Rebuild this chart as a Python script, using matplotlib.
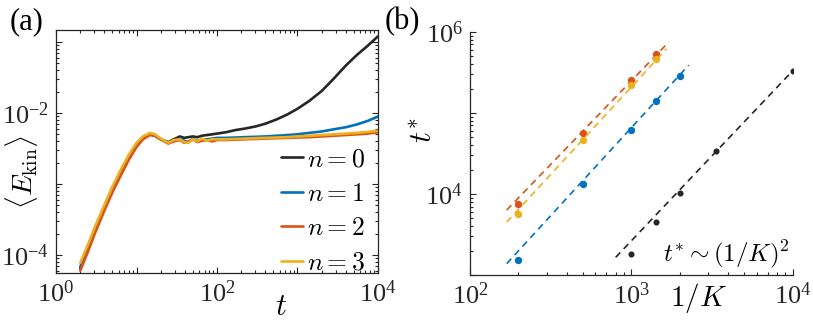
import numpy as np
import matplotlib
matplotlib.use("Agg")
import matplotlib.pyplot as plt
from matplotlib.ticker import LogLocator, FixedLocator, FuncFormatter, NullFormatter

plt.rcParams['font.family'] = ['Liberation Serif', 'DejaVu Serif']
plt.rcParams['mathtext.fontset'] = 'custom'
plt.rcParams['mathtext.rm'] = 'Liberation Serif'
plt.rcParams['mathtext.it'] = 'Liberation Serif:italic'
plt.rcParams['mathtext.bf'] = 'Liberation Serif:bold'

# ---------------- data: panel (a) ----------------
t_vals = [2.0, 2.5, 3.0, 4.0, 5.0, 6.5, 8.0, 10, 12, 14.7, 17, 20, 24.8, 29, 34.7, 39, 44,
          50, 57, 65, 75, 87, 100, 130, 170, 220, 300, 400, 550, 750, 1000, 1400, 2000,
          2800, 4000, 5500, 7500, 10000]

# log10 of <E_kin>
logE_n0 = [-4.19, -3.92, -3.69, -3.35, -3.10, -2.84, -2.64, -2.46, -2.36, -2.30, -2.32, -2.37,
           -2.41, -2.37, -2.33, -2.35, -2.34, -2.33, -2.34, -2.32, -2.31, -2.30, -2.29,
           -2.27, -2.24, -2.22, -2.19, -2.15, -2.09, -2.02, -1.94, -1.83, -1.69, -1.52,
           -1.33, -1.18, -1.05, -0.92]
logE_n1 = [-4.17, -3.90, -3.67, -3.33, -3.08, -2.82, -2.62, -2.45, -2.35, -2.30, -2.32, -2.37,
           -2.42, -2.39, -2.36, -2.39, -2.41, -2.37, -2.39, -2.38, -2.37, -2.36, -2.35,
           -2.35, -2.345, -2.34, -2.335, -2.33, -2.32, -2.31, -2.30, -2.28, -2.26, -2.23,
           -2.20, -2.16, -2.11, -2.05]
logE_n2 = [-4.22, -3.95, -3.71, -3.37, -3.12, -2.86, -2.66, -2.48, -2.37, -2.31, -2.32, -2.37,
           -2.43, -2.40, -2.38, -2.42, -2.40, -2.37, -2.41, -2.39, -2.38, -2.40, -2.38,
           -2.38, -2.375, -2.37, -2.365, -2.36, -2.355, -2.35, -2.345, -2.34, -2.33, -2.32,
           -2.31, -2.30, -2.29, -2.27]
logE_n3 = [-4.11, -3.85, -3.62, -3.29, -3.04, -2.78, -2.59, -2.42, -2.33, -2.28, -2.30, -2.36,
           -2.42, -2.38, -2.37, -2.41, -2.42, -2.37, -2.40, -2.36, -2.39, -2.37, -2.37,
           -2.37, -2.365, -2.36, -2.355, -2.35, -2.345, -2.34, -2.33, -2.32, -2.31, -2.30,
           -2.29, -2.28, -2.265, -2.25]
series_a_labels = [r'$n=0$', r'$n=1$', r'$n=2$', r'$n=3$']

# ---------------- data: panel (b) ----------------
invK_n0 = [1000, 1429, 2000, 3333, 10000]
tstar_n0 = [1830, 4530, 10200, 34200, 331000]
invK_n1 = [200, 500, 1000, 1429, 2000]
tstar_n1 = [1510, 13100, 62400, 139000, 284000]
invK_n2 = [200, 500, 1000, 1429]
tstar_n2 = [7450, 56000, 253000, 528000]
invK_n3 = [200, 500, 1000, 1429]
tstar_n3 = [5690, 46500, 218000, 468000]
# dashed (1/K)^2 fit lines, end values
fit_x_n0 = [800, 10000];  fit_y_n0 = [1650, 331000]
fit_x_n1 = [169, 2270];   fit_y_n1 = [1380, 389000]
fit_x_n2 = [169, 1710];   fit_y_n2 = [6330, 752000]
fit_x_n3 = [169, 1650];   fit_y_n3 = [4490, 615000]

colors = ['#262626', '#0072BD', '#D95319', '#EDB120']
spine_c = '#262626'

fig = plt.figure(figsize=(8.13, 3.22), dpi=100)
axa = fig.add_axes([0.0689, 0.152, 0.396, 0.755])
axb = fig.add_axes([0.578, 0.146, 0.397, 0.755])

def pow_fmt(show):
    def f(v, pos):
        e = int(round(np.log10(v)))
        return r'$10^{%d}$' % e if e in show else ''
    return f

# ---- panel (a)
t = np.array(t_vals)
for logE, c, lab in zip([logE_n0, logE_n1, logE_n2, logE_n3], colors, series_a_labels):
    axa.plot(t, 10 ** np.array(logE), color=c, lw=1.9, label=lab, solid_capstyle='round')
axa.set_xscale('log'); axa.set_yscale('log')
axa.set_xlim(1, 1e4)
axa.set_ylim(10 ** -4.254, 10 ** -0.83)
axa.xaxis.set_major_locator(FixedLocator([1, 10, 100, 1000, 10000]))
axa.xaxis.set_major_formatter(FuncFormatter(pow_fmt([0, 2, 4])))
axa.yaxis.set_major_locator(FixedLocator([1e-4, 1e-3, 1e-2, 1e-1]))
axa.yaxis.set_major_formatter(FuncFormatter(pow_fmt([-4, -2])))
axa.xaxis.set_minor_locator(LogLocator(base=10, subs=np.arange(2, 10), numticks=20))
axa.yaxis.set_minor_locator(LogLocator(base=10, subs=np.arange(2, 10), numticks=20))
axa.xaxis.set_minor_formatter(NullFormatter()); axa.yaxis.set_minor_formatter(NullFormatter())
axa.tick_params(which='both', direction='in', top=True, right=True, labelsize=19,
                colors=spine_c, width=0.8, pad=5)
axa.tick_params(which='major', length=4)
axa.tick_params(which='minor', length=2.3)
for s in axa.spines.values():
    s.set_color(spine_c); s.set_linewidth(0.9)
leg = axa.legend(loc='lower right', bbox_to_anchor=(1.0, -0.06), frameon=False, fontsize=18.5,
                 handlelength=0.85, handletextpad=0.15, labelspacing=0.45, borderaxespad=0.1)
for txt in leg.get_texts():
    txt.set_math_fontfamily('cm')
axa.text(0.70, -0.14, r'$t$', transform=axa.transAxes, fontsize=22, ha='center', va='center',
         math_fontfamily='cm')
axa.text(-0.106, 0.416, r'$\langle E_{\rm kin}\rangle$', transform=axa.transAxes, fontsize=20,
         ha='center', va='center', rotation=90, math_fontfamily='cm')
fig.text(0.033, 0.932, '(a)', fontsize=22, ha='center', va='center')

# ---- panel (b)
for xs, ys, fx, fy, c, ms in zip([invK_n0, invK_n1, invK_n2, invK_n3],
                                 [tstar_n0, tstar_n1, tstar_n2, tstar_n3],
                                 [fit_x_n0, fit_x_n1, fit_x_n2, fit_x_n3],
                                 [fit_y_n0, fit_y_n1, fit_y_n2, fit_y_n3],
                                 colors, [4.4, 5.3, 5.3, 5.3]):
    axb.plot(fx, fy, ls=(0, (4, 3)), color=c, lw=1.2)
    axb.plot(xs, ys, 'o', color=c, ms=ms, mec='none')
axb.set_xscale('log'); axb.set_yscale('log')
axb.set_xlim(1e2, 1e4)
axb.set_ylim(1e3, 1e6)
axb.xaxis.set_major_locator(FixedLocator([1e2, 1e3, 1e4]))
axb.xaxis.set_major_formatter(FuncFormatter(pow_fmt([2, 3, 4])))
axb.yaxis.set_major_locator(FixedLocator([1e3, 1e4, 1e5, 1e6]))
axb.yaxis.set_major_formatter(FuncFormatter(pow_fmt([4, 6])))
axb.xaxis.set_minor_locator(LogLocator(base=10, subs=np.arange(2, 10), numticks=20))
axb.yaxis.set_minor_locator(LogLocator(base=10, subs=np.arange(2, 10), numticks=20))
axb.xaxis.set_minor_formatter(NullFormatter()); axb.yaxis.set_minor_formatter(NullFormatter())
axb.spines['top'].set_visible(False); axb.spines['right'].set_visible(False)
for s in ('left', 'bottom'):
    axb.spines[s].set_color(spine_c); axb.spines[s].set_linewidth(0.9)
axb.tick_params(which='both', direction='in', labelsize=19, colors=spine_c, width=0.8, pad=5)
axb.tick_params(which='major', length=4)
axb.tick_params(which='minor', length=2.3)
axb.text(0.709, -0.095, r'$1/K$', transform=axb.transAxes, fontsize=21, ha='center', va='center',
         math_fontfamily='cm')
axb.text(-0.142, 0.597, r'$t^{*}$', transform=axb.transAxes, fontsize=22, ha='center',
         va='center', rotation=90, math_fontfamily='cm')
axb.text(0.99, 0.085, r'$t^{*}\sim(1/K)^{2}$', transform=axb.transAxes, fontsize=18,
         ha='right', va='center', math_fontfamily='cm')
fig.text(0.4945, 0.932, '(b)', fontsize=22, ha='center', va='center')

fig.savefig('out.png', dpi=100)
